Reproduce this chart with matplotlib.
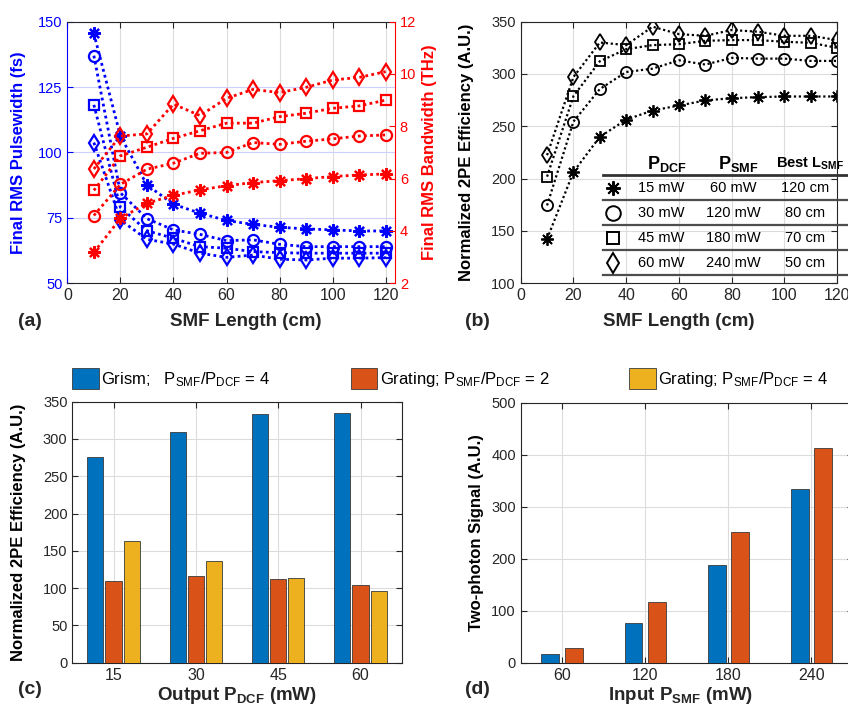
import matplotlib
matplotlib.use("Agg")
import matplotlib.pyplot as plt
from matplotlib.markers import MarkerStyle
import numpy as np

plt.rcParams['font.family'] = ['Liberation Sans', 'DejaVu Sans']
plt.rcParams['mathtext.fontset'] = 'custom'
plt.rcParams['mathtext.rm'] = 'Liberation Sans'
plt.rcParams['mathtext.it'] = 'Liberation Sans:italic'
plt.rcParams['mathtext.bf'] = 'Liberation Sans:bold'
NARROW = ['Liberation Sans Narrow', 'Liberation Sans', 'DejaVu Sans']
DARK = '#262626'

# ---------------- data ----------------
smf_length = [10, 20, 30, 40, 50, 60, 70, 80, 90, 100, 110, 120]

pw_15 = [145.5, 106.3, 87.6, 80.2, 76.8, 74.0, 72.5, 71.4, 70.8, 70.4, 70.0, 70.0]
pw_30 = [137.0, 84.6, 74.7, 70.4, 68.7, 66.3, 66.6, 64.9, 64.0, 64.0, 64.0, 64.0]
pw_45 = [118.2, 79.0, 70.1, 67.2, 64.0, 63.4, 62.1, 61.7, 61.5, 61.5, 61.5, 61.5]
pw_60 = [103.8, 74.2, 66.8, 65.0, 61.5, 59.9, 60.8, 59.2, 58.9, 59.6, 59.6, 59.8]

bw_15 = [3.18, 4.48, 5.06, 5.36, 5.57, 5.73, 5.85, 5.92, 6.00, 6.08, 6.14, 6.18]
bw_30 = [4.59, 5.78, 6.36, 6.59, 6.97, 7.00, 7.38, 7.31, 7.43, 7.52, 7.63, 7.67]
bw_45 = [5.55, 6.87, 7.20, 7.54, 7.83, 8.12, 8.12, 8.37, 8.50, 8.69, 8.78, 9.00]
bw_60 = [6.37, 7.63, 7.71, 8.85, 8.41, 9.07, 9.41, 9.29, 9.49, 9.77, 9.87, 10.09]

eff_15 = [142.3, 206.4, 239.9, 256.4, 265.1, 269.9, 274.7, 276.9, 277.9, 278.5, 278.5, 278.5]
eff_30 = [174.4, 254.5, 285.6, 301.9, 305.1, 313.1, 309.0, 315.4, 314.7, 314.7, 312.5, 312.5]
eff_45 = [201.9, 278.8, 312.2, 323.7, 327.6, 328.5, 331.7, 332.4, 332.4, 330.8, 329.8, 325.0]
eff_60 = [222.4, 297.1, 330.1, 327.6, 345.2, 338.1, 336.5, 342.0, 340.4, 336.5, 336.5, 332.4]

table_pdcf = ['15 mW', '30 mW', '45 mW', '60 mW']
table_psmf = ['60 mW', '120 mW', '180 mW', '240 mW']
table_best = ['120 cm', '80 cm', '70 cm', '50 cm']

pdcf_labels = ['15', '30', '45', '60']
grism_4 = [276, 310, 334, 335]
grating_2 = [110, 116, 112, 104]
grating_4 = [163, 136, 113, 96.5]
bar_legend = [r'Grism;   P$_{\mathrm{SMF}}$/P$_{\mathrm{DCF}}$ = 4',
              r'Grating; P$_{\mathrm{SMF}}$/P$_{\mathrm{DCF}}$ = 2',
              r'Grating; P$_{\mathrm{SMF}}$/P$_{\mathrm{DCF}}$ = 4']

psmf_labels = ['60', '120', '180', '240']
sig_grism = [17.5, 77, 187, 334]
sig_grating = [28, 116, 251, 413]

C_BLUE = '#0072BD'
C_ORANGE = '#D95319'
C_YELLOW = '#EDB120'

STAR = MarkerStyle((8, 2, 0))
markers = [STAR, 'o', 's', 'd']
msizes = [9, 8, 6.5, 8]
DOT = (0, (1, 1.2))

fig = plt.figure(figsize=(8.48, 7.13), dpi=100)


def base_style(ax):
    ax.tick_params(direction='in', length=4, width=0.8, top=True, right=True,
                   colors=DARK, labelsize=10)
    for s in ax.spines.values():
        s.set_color(DARK)
        s.set_linewidth(0.8)


XT = 11.5   # x tick label size
XL = 13.5   # x label size

# ---------------- (a) ----------------
axa = fig.add_axes([0.0794, 0.6027, 0.3864, 0.3669])
axa2 = axa.twinx()
for ys, m, ms in zip([pw_15, pw_30, pw_45, pw_60], markers, msizes):
    axa.plot(smf_length, ys, color='blue', ls=DOT, lw=2, marker=m, ms=ms,
             mfc='none', mec='blue', mew=1.6)
for ys, m, ms in zip([bw_15, bw_30, bw_45, bw_60], markers, msizes):
    axa2.plot(smf_length, ys, color='red', ls=DOT, lw=2, marker=m, ms=ms,
              mfc='none', mec='red', mew=1.6)
axa.set_xlim(0, 123.5)
axa.set_ylim(50, 150)
axa2.set_ylim(2, 12)
axa.set_xticks(range(0, 121, 20), [str(v) for v in range(0, 121, 20)],
               fontfamily=NARROW, fontsize=XT)
axa.set_yticks([50, 75, 100, 125, 150])
axa2.set_yticks([2, 4, 6, 8, 10, 12])
axa.tick_params(axis='x', direction='in', length=4, top=True, colors=DARK)
axa.tick_params(axis='y', direction='in', length=4, colors='blue', labelsize=10.5)
axa2.tick_params(axis='y', direction='in', length=4, colors='red', labelsize=10.5)
axa.xaxis.grid(True, color='#dcdcdc', lw=0.8)
axa.yaxis.grid(True, color='#cfcfff', lw=0.8)
axa.set_axisbelow(True)
for k in ['top', 'bottom']:
    axa.spines[k].set_color(DARK)
    axa2.spines[k].set_visible(False)
axa.spines['left'].set_color('blue')
axa.spines['right'].set_visible(False)
axa2.spines['left'].set_visible(False)
axa2.spines['right'].set_color('red')
axa.set_ylabel('Final RMS Pulsewidth (fs)', color='blue', fontsize=12, fontweight='bold')
axa.yaxis.set_label_coords(-0.126, 0.5)
axa2.set_ylabel('Final RMS Bandwidth (THz)', color='red', fontsize=12, fontweight='bold',
                rotation=90)
axa2.yaxis.set_label_coords(1.082, 0.5)
axa.set_xlabel('SMF Length (cm)', fontsize=XL, fontweight='bold', color=DARK,
               fontfamily=NARROW)
axa.xaxis.set_label_coords(0.545, -0.112)

# ---------------- (b) ----------------
axb = fig.add_axes([0.6140, 0.6027, 0.3733, 0.3669])
base_style(axb)
for ys, m, ms in zip([eff_15, eff_30, eff_45, eff_60], markers, msizes):
    axb.plot(smf_length, ys, color='black', ls=DOT, lw=1.6, marker=m, ms=ms,
             mfc='none', mec='black', mew=1.3)
axb.set_xlim(0, 120)
axb.set_ylim(100, 350)
axb.set_xticks(range(0, 121, 20), [str(v) for v in range(0, 121, 20)],
               fontfamily=NARROW, fontsize=XT)
axb.set_yticks(range(100, 351, 50))
axb.tick_params(axis='y', labelsize=10.5)
axb.grid(True, color='#dcdcdc', lw=0.8)
axb.set_axisbelow(True)
axb.set_ylabel('Normalized 2PE Efficiency (A.U.)', fontsize=12, fontweight='bold', color='black')
axb.yaxis.set_label_coords(-0.148, 0.5)
axb.set_xlabel('SMF Length (cm)', fontsize=XL, fontweight='bold', color=DARK,
               fontfamily=NARROW)
axb.xaxis.set_label_coords(0.5, -0.112)

# table inside (b)
hdr_y = 214
axb.text(55.3, hdr_y, r'$\mathbf{P}_{\mathbf{DCF}}$', fontsize=13, ha='center', va='center')
axb.text(82.5, hdr_y, r'$\mathbf{P}_{\mathbf{SMF}}$', fontsize=13, ha='center', va='center')
axb.text(109.5, hdr_y, r'$\mathbf{Best\ L}_{\mathbf{SMF}}$', fontsize=10.5, ha='center', va='center')
line_ys = [203.5, 179.5, 155.5, 131.4, 108]
for i, ly in enumerate(line_ys):
    axb.plot([31.3, 125], [ly, ly], color='#4d4d4d' if i else '#333333',
             lw=1.6 if i else 2.0, clip_on=False, zorder=3)
row_ys = [190.9, 167.5, 143.5, 119.6]
for ry, m, a, b, c in zip(row_ys, markers, table_pdcf, table_psmf, table_best):
    axb.plot([34.9], [ry], marker=m, ms=10.5 if m != 's' else 8.5, mfc='none', mec='black',
             mew=1.4, ls='none', zorder=4)
    axb.text(53.2, ry, a, fontsize=10.5, ha='center', va='center')
    axb.text(80.6, ry, b, fontsize=10.5, ha='center', va='center')
    axb.text(107.8, ry, c, fontsize=10.5, ha='center', va='center')

# ---------------- (c) ----------------
axc = fig.add_axes([0.0853, 0.0705, 0.3884, 0.3661])
base_style(axc)
xc = np.arange(1, 5)
off = 0.222
wc = 0.195
bars_c = []
for k, (vals, col) in enumerate(zip([grism_4, grating_2, grating_4],
                                     [C_BLUE, C_ORANGE, C_YELLOW])):
    b = axc.bar(xc + (k - 1) * off, vals, width=wc, color=col, edgecolor='#3a3a3a',
                lw=0.6, zorder=3)
    bars_c.append(b)
axc.set_xlim(0.5, 4.5)
axc.set_ylim(0, 350)
axc.set_xticks(xc, pdcf_labels, fontfamily=NARROW, fontsize=XT)
axc.set_yticks(range(0, 351, 50))
axc.tick_params(axis='y', labelsize=10.5)
axc.grid(True, color='#dcdcdc', lw=0.8)
axc.set_axisbelow(True)
axc.set_ylabel('Normalized 2PE Efficiency (A.U.)', fontsize=12, fontweight='bold', color='black')
axc.yaxis.set_label_coords(-0.142, 0.5)
axc.set_xlabel(r'Output P$_{\mathbf{DCF}}$ (mW)', fontsize=XL, fontweight='bold', color=DARK,
               fontfamily=NARROW)
axc.xaxis.set_label_coords(0.5, -0.085)

# legend (top, across figure)
leg_x = [72.3 / 848, 350.7 / 848, 629 / 848]
leg_y = 1 - 378.5 / 713
for b, lab, lx in zip(bars_c, bar_legend, leg_x):
    fig.legend([b], [lab], loc='center left', bbox_to_anchor=(lx, leg_y),
               frameon=False, fontsize=12, handlelength=1.6, handleheight=1.55,
               handletextpad=0.15, borderpad=0, borderaxespad=0)

# ---------------- (d) ----------------
axd = fig.add_axes([0.6140, 0.0705, 0.3919, 0.3647])
base_style(axd)
xd = np.arange(1, 5)
offd = 0.142
wd = 0.215
axd.bar(xd - offd, sig_grism, width=wd, color=C_BLUE, edgecolor='#3a3a3a', lw=0.6, zorder=3)
axd.bar(xd + offd, sig_grating, width=wd, color=C_ORANGE, edgecolor='#3a3a3a', lw=0.6, zorder=3)
axd.set_xlim(0.5, 4.5)
axd.set_ylim(0, 500)
axd.set_xticks(xd, psmf_labels, fontfamily=NARROW, fontsize=XT)
axd.set_yticks(range(0, 501, 100))
axd.tick_params(axis='y', labelsize=10.5)
axd.grid(True, color='#dcdcdc', lw=0.8)
axd.set_axisbelow(True)
axd.set_ylabel('Two-photon Signal (A.U.)', fontsize=12, fontweight='bold', color='black')
axd.yaxis.set_label_coords(-0.11, 0.5)
axd.set_xlabel(r'Input P$_{\mathbf{SMF}}$ (mW)', fontsize=XL, fontweight='bold', color=DARK,
               fontfamily=NARROW)
axd.xaxis.set_label_coords(0.48, -0.085)

# panel letters
for lab, px, py in [('(a)', 30, 321), ('(b)', 477, 321), ('(c)', 30, 690), ('(d)', 477, 690)]:
    fig.text(px / 848, 1 - py / 713, lab, fontsize=14, fontweight='bold', color=DARK,
             ha='center', va='center', fontfamily=NARROW)

fig.savefig('out.png', dpi=100)
